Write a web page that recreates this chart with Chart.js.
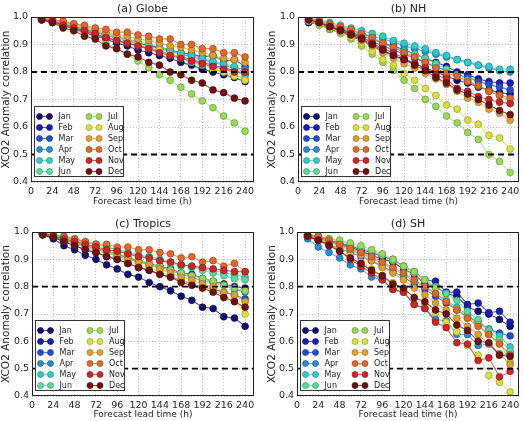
<!DOCTYPE html>
<html>
<head>
<meta charset="utf-8">
<script src="https://cdn.jsdelivr.net/npm/chart.js@4"></script>
<style>
  html, body { margin: 0; padding: 0; background: #fff; overflow: hidden; }
  #wrap { position: relative; width: 524px; height: 421px; }
  canvas { position: absolute; }
</style>
</head>
<body>
<div id="wrap">
  <canvas id="globeChart" width="262" height="210" style="left:0;top:0;width:262px;height:210px"></canvas>
  <canvas id="nhChart" width="262" height="210" style="left:262px;top:0;width:262px;height:210px"></canvas>
  <canvas id="tropicsChart" width="262" height="206" style="left:0;top:215px;width:262px;height:206px"></canvas>
  <canvas id="shChart" width="262" height="206" style="left:262px;top:215px;width:262px;height:206px"></canvas>
</div>
<script>
// lead times (h) and axis ticks
const leadTimes = [12, 24, 36, 48, 60, 72, 84, 96, 108, 120, 132, 144, 156, 168, 180, 192, 204, 216, 228, 240];
const xTicks = [0, 24, 48, 72, 96, 120, 144, 168, 192, 216, 240];
const yTicks = [0.4, 0.5, 0.6, 0.7, 0.8, 0.9, 1.0];
const refLines = [0.8, 0.5];
const months = ["Jan", "Feb", "Mar", "Apr", "May", "Jun", "Jul", "Aug", "Sep", "Oct", "Nov", "Dec"];

// (a) Globe, one row per month
const globe = [
  [0.99, 0.98, 0.97, 0.955, 0.945, 0.93, 0.92, 0.905, 0.895, 0.88, 0.87, 0.86, 0.85, 0.835, 0.825, 0.81, 0.80, 0.79, 0.78, 0.765],
  [0.99, 0.985, 0.975, 0.965, 0.955, 0.945, 0.935, 0.925, 0.915, 0.905, 0.895, 0.89, 0.88, 0.87, 0.865, 0.855, 0.86, 0.84, 0.845, 0.82],
  [0.99, 0.98, 0.97, 0.96, 0.95, 0.935, 0.925, 0.915, 0.905, 0.895, 0.885, 0.875, 0.865, 0.855, 0.845, 0.835, 0.825, 0.815, 0.805, 0.79],
  [0.99, 0.985, 0.975, 0.965, 0.955, 0.945, 0.935, 0.925, 0.915, 0.905, 0.895, 0.885, 0.875, 0.865, 0.855, 0.845, 0.835, 0.825, 0.815, 0.81],
  [0.995, 0.99, 0.98, 0.97, 0.96, 0.95, 0.94, 0.93, 0.92, 0.91, 0.90, 0.89, 0.88, 0.87, 0.86, 0.85, 0.84, 0.83, 0.82, 0.795],
  [0.995, 0.985, 0.975, 0.965, 0.955, 0.945, 0.935, 0.925, 0.91, 0.90, 0.885, 0.875, 0.86, 0.85, 0.835, 0.825, 0.81, 0.80, 0.79, 0.775],
  [0.99, 0.98, 0.965, 0.955, 0.94, 0.925, 0.905, 0.885, 0.865, 0.84, 0.815, 0.79, 0.77, 0.745, 0.72, 0.695, 0.67, 0.64, 0.615, 0.585],
  [0.995, 0.99, 0.98, 0.97, 0.96, 0.95, 0.94, 0.925, 0.915, 0.905, 0.89, 0.88, 0.865, 0.855, 0.84, 0.83, 0.815, 0.80, 0.785, 0.77],
  [0.995, 0.99, 0.98, 0.975, 0.965, 0.955, 0.945, 0.935, 0.93, 0.92, 0.915, 0.905, 0.895, 0.89, 0.88, 0.87, 0.86, 0.85, 0.845, 0.835],
  [0.995, 0.99, 0.985, 0.975, 0.97, 0.96, 0.955, 0.945, 0.945, 0.935, 0.93, 0.92, 0.92, 0.90, 0.90, 0.885, 0.885, 0.87, 0.87, 0.855],
  [0.99, 0.985, 0.97, 0.96, 0.95, 0.94, 0.925, 0.915, 0.905, 0.895, 0.885, 0.87, 0.86, 0.85, 0.84, 0.83, 0.82, 0.81, 0.80, 0.80],
  [0.99, 0.98, 0.96, 0.95, 0.93, 0.92, 0.895, 0.885, 0.865, 0.855, 0.835, 0.825, 0.80, 0.79, 0.77, 0.76, 0.735, 0.725, 0.705, 0.695],
];

// (b) NH
const nh = [
  [0.98, 0.975, 0.955, 0.945, 0.93, 0.915, 0.895, 0.875, 0.86, 0.845, 0.83, 0.815, 0.80, 0.785, 0.77, 0.76, 0.745, 0.735, 0.725, 0.72],
  [0.98, 0.975, 0.96, 0.955, 0.945, 0.93, 0.92, 0.905, 0.895, 0.88, 0.865, 0.85, 0.835, 0.82, 0.80, 0.79, 0.775, 0.765, 0.76, 0.76],
  [0.985, 0.975, 0.96, 0.95, 0.94, 0.925, 0.91, 0.895, 0.88, 0.865, 0.85, 0.835, 0.82, 0.805, 0.79, 0.78, 0.765, 0.755, 0.745, 0.735],
  [0.985, 0.98, 0.97, 0.96, 0.95, 0.94, 0.93, 0.92, 0.91, 0.895, 0.885, 0.875, 0.865, 0.855, 0.845, 0.835, 0.825, 0.815, 0.805, 0.80],
  [0.995, 0.99, 0.98, 0.97, 0.96, 0.95, 0.94, 0.93, 0.915, 0.905, 0.895, 0.885, 0.87, 0.86, 0.845, 0.835, 0.825, 0.82, 0.81, 0.81],
  [0.99, 0.98, 0.97, 0.96, 0.95, 0.935, 0.92, 0.905, 0.89, 0.875, 0.865, 0.85, 0.83, 0.81, 0.79, 0.77, 0.75, 0.73, 0.715, 0.69],
  [0.985, 0.97, 0.955, 0.94, 0.92, 0.895, 0.865, 0.835, 0.805, 0.77, 0.74, 0.70, 0.675, 0.64, 0.615, 0.58, 0.555, 0.50, 0.475, 0.435],
  [0.99, 0.975, 0.96, 0.945, 0.925, 0.905, 0.875, 0.845, 0.825, 0.795, 0.77, 0.74, 0.715, 0.68, 0.665, 0.625, 0.61, 0.57, 0.56, 0.52],
  [0.99, 0.98, 0.965, 0.955, 0.935, 0.915, 0.895, 0.87, 0.85, 0.83, 0.815, 0.795, 0.775, 0.755, 0.73, 0.705, 0.69, 0.665, 0.65, 0.625],
  [0.995, 0.985, 0.975, 0.965, 0.955, 0.94, 0.925, 0.905, 0.89, 0.87, 0.855, 0.835, 0.815, 0.795, 0.785, 0.765, 0.75, 0.73, 0.715, 0.705],
  [0.99, 0.98, 0.965, 0.955, 0.94, 0.925, 0.905, 0.885, 0.87, 0.85, 0.83, 0.815, 0.79, 0.775, 0.74, 0.73, 0.71, 0.70, 0.69, 0.685],
  [0.99, 0.98, 0.965, 0.95, 0.935, 0.92, 0.90, 0.88, 0.86, 0.845, 0.825, 0.805, 0.78, 0.76, 0.735, 0.72, 0.70, 0.68, 0.66, 0.645],
];

// (c) Tropics
const tropics = [
  [0.99, 0.975, 0.95, 0.935, 0.915, 0.90, 0.88, 0.865, 0.845, 0.835, 0.815, 0.80, 0.785, 0.765, 0.75, 0.725, 0.72, 0.69, 0.685, 0.655],
  [0.99, 0.985, 0.97, 0.96, 0.95, 0.94, 0.93, 0.92, 0.905, 0.895, 0.885, 0.875, 0.865, 0.85, 0.845, 0.83, 0.82, 0.81, 0.80, 0.795],
  [0.99, 0.98, 0.965, 0.95, 0.935, 0.925, 0.91, 0.90, 0.885, 0.87, 0.86, 0.845, 0.835, 0.825, 0.81, 0.80, 0.79, 0.78, 0.77, 0.755],
  [0.99, 0.985, 0.97, 0.96, 0.945, 0.935, 0.925, 0.91, 0.90, 0.89, 0.88, 0.87, 0.86, 0.845, 0.835, 0.82, 0.815, 0.805, 0.79, 0.78],
  [0.995, 0.99, 0.98, 0.97, 0.96, 0.955, 0.945, 0.935, 0.925, 0.915, 0.91, 0.90, 0.89, 0.88, 0.875, 0.865, 0.86, 0.85, 0.845, 0.835],
  [0.995, 0.99, 0.98, 0.975, 0.965, 0.955, 0.945, 0.935, 0.925, 0.915, 0.905, 0.895, 0.885, 0.875, 0.87, 0.86, 0.85, 0.84, 0.83, 0.825],
  [0.995, 0.985, 0.975, 0.965, 0.955, 0.945, 0.93, 0.92, 0.91, 0.895, 0.885, 0.875, 0.86, 0.85, 0.84, 0.83, 0.82, 0.805, 0.795, 0.785],
  [0.995, 0.985, 0.975, 0.96, 0.95, 0.935, 0.925, 0.91, 0.895, 0.88, 0.87, 0.855, 0.84, 0.825, 0.81, 0.795, 0.79, 0.765, 0.75, 0.70],
  [0.995, 0.985, 0.975, 0.965, 0.95, 0.94, 0.93, 0.915, 0.905, 0.89, 0.88, 0.865, 0.85, 0.835, 0.825, 0.81, 0.80, 0.78, 0.77, 0.745],
  [0.995, 0.99, 0.985, 0.975, 0.965, 0.955, 0.955, 0.945, 0.945, 0.935, 0.935, 0.925, 0.92, 0.905, 0.91, 0.89, 0.895, 0.875, 0.885, 0.855],
  [0.995, 0.985, 0.975, 0.965, 0.955, 0.945, 0.935, 0.93, 0.92, 0.91, 0.905, 0.895, 0.89, 0.88, 0.875, 0.87, 0.865, 0.86, 0.855, 0.855],
  [0.99, 0.98, 0.965, 0.95, 0.935, 0.925, 0.91, 0.90, 0.885, 0.87, 0.86, 0.845, 0.835, 0.815, 0.805, 0.795, 0.78, 0.76, 0.745, 0.725],
];

// (d) SH
const sh = [
  [0.98, 0.975, 0.965, 0.955, 0.945, 0.93, 0.915, 0.90, 0.89, 0.865, 0.845, 0.81, 0.80, 0.775, 0.765, 0.725, 0.71, 0.70, 0.68, 0.655],
  [0.985, 0.98, 0.97, 0.96, 0.95, 0.935, 0.925, 0.91, 0.90, 0.875, 0.855, 0.825, 0.82, 0.78, 0.78, 0.735, 0.74, 0.705, 0.71, 0.67],
  [0.98, 0.97, 0.955, 0.94, 0.925, 0.91, 0.895, 0.875, 0.855, 0.835, 0.81, 0.79, 0.765, 0.74, 0.715, 0.69, 0.67, 0.645, 0.63, 0.62],
  [0.975, 0.945, 0.925, 0.905, 0.88, 0.865, 0.835, 0.825, 0.79, 0.78, 0.735, 0.72, 0.68, 0.675, 0.625, 0.625, 0.585, 0.59, 0.55, 0.555],
  [0.985, 0.975, 0.965, 0.95, 0.935, 0.92, 0.905, 0.885, 0.865, 0.845, 0.82, 0.80, 0.775, 0.75, 0.725, 0.695, 0.67, 0.645, 0.62, 0.58],
  [0.99, 0.985, 0.975, 0.965, 0.955, 0.94, 0.93, 0.915, 0.895, 0.875, 0.85, 0.825, 0.80, 0.775, 0.75, 0.71, 0.68, 0.64, 0.605, 0.565],
  [0.99, 0.985, 0.975, 0.97, 0.96, 0.95, 0.935, 0.92, 0.90, 0.875, 0.855, 0.825, 0.795, 0.75, 0.72, 0.685, 0.66, 0.625, 0.595, 0.525],
  [0.99, 0.975, 0.96, 0.935, 0.915, 0.89, 0.865, 0.84, 0.815, 0.79, 0.76, 0.73, 0.705, 0.67, 0.635, 0.585, 0.55, 0.475, 0.45, 0.415],
  [0.99, 0.98, 0.965, 0.95, 0.935, 0.915, 0.895, 0.87, 0.85, 0.825, 0.795, 0.77, 0.74, 0.715, 0.685, 0.655, 0.625, 0.59, 0.555, 0.515],
  [0.99, 0.985, 0.97, 0.955, 0.94, 0.925, 0.91, 0.89, 0.87, 0.85, 0.825, 0.80, 0.775, 0.745, 0.715, 0.685, 0.655, 0.625, 0.59, 0.55],
  [0.985, 0.97, 0.955, 0.93, 0.90, 0.875, 0.85, 0.825, 0.79, 0.78, 0.735, 0.72, 0.67, 0.65, 0.595, 0.59, 0.53, 0.54, 0.47, 0.49],
  [0.985, 0.97, 0.95, 0.93, 0.905, 0.885, 0.86, 0.84, 0.81, 0.795, 0.76, 0.745, 0.715, 0.70, 0.66, 0.64, 0.60, 0.595, 0.55, 0.545],
];

// jet-like month colours
const monthColors = ["#10106e", "#1a1ab4", "#2050d0", "#2a8cd0", "#30cccc", "#58dc9c",
                     "#98da58", "#d8e040", "#e0a030", "#e0682a", "#cc2626", "#701010"];

Chart.defaults.font.family = "'DejaVu Sans', sans-serif";
Chart.defaults.color = "#262626";

function withAlpha(hex, a) {
  const n = parseInt(hex.slice(1), 16);
  return `rgba(${n >> 16}, ${(n >> 8) & 255}, ${n & 255}, ${a})`;
}
function darker(hex) {
  const n = parseInt(hex.slice(1), 16);
  const f = (c) => Math.round(c * 0.7);
  return `rgb(${f(n >> 16)}, ${f((n >> 8) & 255)}, ${f(n & 255)})`;
}

// ✅ reference lines, frame, title and in-plot legend
const panelDecor = {
  id: "panelDecor",
  afterDatasetsDraw(chart) {
    const { ctx, chartArea: a, scales } = chart;
    ctx.save();
    ctx.strokeStyle = "#000";
    ctx.lineWidth = 1.8;
    ctx.setLineDash([6, 4]);
    refLines.forEach((v) => {
      const y = scales.y.getPixelForValue(v);
      ctx.beginPath();
      ctx.moveTo(a.left, y);
      ctx.lineTo(a.right, y);
      ctx.stroke();
    });
    ctx.restore();
  },
  afterDraw(chart, args, opts) {
    const { ctx, chartArea: a } = chart;
    ctx.save();
    // frame
    ctx.strokeStyle = "#222";
    ctx.lineWidth = 1;
    ctx.strokeRect(a.left + 0.5, a.top + 0.5, a.right - a.left - 1, a.bottom - a.top - 1);

    // title
    ctx.fillStyle = "#222";
    ctx.font = "11px 'DejaVu Sans', sans-serif";
    ctx.textAlign = "center";
    ctx.textBaseline = "middle";
    ctx.fillText(opts.text, (a.left + a.right) / 2, a.top - 7.5);

    // legend box
    const bx = a.left + 3.5, by = a.bottom - 75.5, bw = 89, bh = 70;
    ctx.fillStyle = "#fff";
    ctx.fillRect(bx, by, bw, bh);
    ctx.strokeStyle = "#333";
    ctx.strokeRect(bx, by, bw, bh);
    ctx.font = "8px 'DejaVu Sans', sans-serif";
    ctx.textAlign = "left";
    chart.data.datasets.forEach((ds, i) => {
      const col = Math.floor(i / 6), row = i % 6;
      const x0 = bx + 5 + col * 49.5, y = by + 10 + row * 11;
      ctx.strokeStyle = ds.borderColor;
      ctx.lineWidth = 1.2;
      ctx.beginPath();
      ctx.moveTo(x0, y);
      ctx.lineTo(x0 + 10, y);
      ctx.stroke();
      [x0, x0 + 10].forEach((px) => {
        ctx.beginPath();
        ctx.arc(px, y, 3, 0, Math.PI * 2);
        ctx.fillStyle = ds.pointBackgroundColor;
        ctx.fill();
        ctx.strokeStyle = ds.pointBorderColor;
        ctx.lineWidth = 0.7;
        ctx.stroke();
      });
      ctx.fillStyle = "#222";
      ctx.fillText(ds.label, x0 + 19, y + 0.5);
    });
    ctx.restore();
  },
};

function makePanel(id, title, series, yWidth, xHeight, padRight, yTitlePad, xTitlePad) {
  const ctx = document.getElementById(id).getContext("2d");
  return new Chart(ctx, {
    type: "line",
    data: {
      datasets: series.map((vals, i) => ({
        label: months[i],
        data: vals.map((v, j) => ({ x: leadTimes[j], y: v })),
        order: 11 - i,
        borderColor: withAlpha(monthColors[i], 0.7),
        backgroundColor: monthColors[i],
        pointBackgroundColor: monthColors[i],
        pointBorderColor: darker(monthColors[i]),
        pointBorderWidth: 0.7,
        pointRadius: 3.4,
        borderWidth: 1.1,
        tension: 0,
        fill: false,
      })),
    },
    options: {
      responsive: false,
      animation: false,
      events: [],
      layout: { padding: { top: 17, right: padRight, left: 0, bottom: 0 } },
      plugins: {
        legend: { display: false },
        tooltip: { enabled: false },
        panelDecor: { text: title },
      },
      scales: {
        x: {
          type: "linear",
          min: 0,
          max: 250,
          afterBuildTicks: (s) => { s.ticks = xTicks.map((v) => ({ value: v })); },
          afterFit: (s) => { s.height = xHeight; },
          grid: { color: "rgba(0,0,0,0.3)", lineWidth: 0.8, drawTicks: false },
          border: { display: false, dash: [1, 2] },
          ticks: { padding: 4, maxRotation: 0, font: { size: 9.5 } },
          title: {
            display: true,
            text: "Forecast lead time (h)",
            font: { size: 9 },
            padding: { top: 0, bottom: xTitlePad },
          },
        },
        y: {
          min: 0.4,
          max: 1.0,
          afterBuildTicks: (s) => { s.ticks = yTicks.map((v) => ({ value: v })); },
          afterFit: (s) => { s.width = yWidth; },
          grid: { color: "rgba(0,0,0,0.3)", lineWidth: 0.8, drawTicks: false },
          border: { display: false, dash: [1, 2] },
          ticks: { padding: 3, font: { size: 9.5 }, callback: (v) => v.toFixed(1) },
          title: {
            display: true,
            text: "XCO2 Anomaly correlation",
            font: { size: 10.5 },
            padding: { top: yTitlePad, bottom: 0 },
          },
        },
      },
    },
    plugins: [panelDecor],
  });
}

makePanel("globeChart", "(a) Globe", globe, 31, 28, 8, 0, 3);
makePanel("nhChart", "(b) NH", nh, 36, 28, 5, 4, 3);
makePanel("tropicsChart", "(c) Tropics", tropics, 32, 25, 8, 0, 1);
makePanel("shChart", "(d) SH", sh, 35, 25, 5, 4, 1);
</script>
</body>
</html>
